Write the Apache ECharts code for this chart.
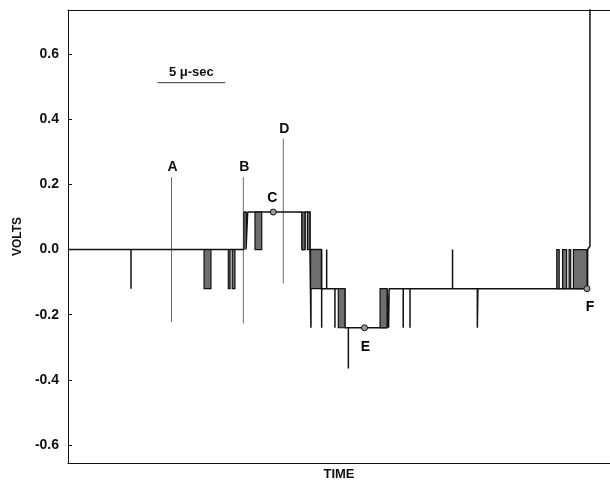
<!DOCTYPE html>
<html><head><meta charset="utf-8">
<script src="https://cdn.jsdelivr.net/npm/echarts@6/dist/echarts.min.js"></script>
<style>html,body{margin:0;padding:0;background:#fff}#c{width:610px;height:484px}</style>
</head><body><div id="c"></div>
<script>
// ---- data ----
const yTicks = [-0.6, -0.4, -0.2, 0, 0.2, 0.4, 0.6];
// main trace: [time (µs), volts]
const trace = [
  [0, 0],
  [4.65, 0], [4.65, -0.12], [4.65, 0],
  [12.99, 0], [12.99, 0.115],
  [13.14, 0.115], [13.14, 0], [13.26, 0], [13.26, 0.115],
  [17.27, 0.115], [17.27, 0], [17.49, 0], [17.49, 0.115],
  [17.86, 0.115], [17.86, 0],
  [17.93, 0], [17.93, -0.24], [17.93, 0],
  [18.72, 0], [18.72, -0.24], [18.72, -0.12],
  [19.09, -0.12], [19.09, 0], [19.09, -0.12],
  [19.7, -0.12], [19.7, -0.24], [19.7, -0.12],
  [20.44, -0.12], [20.44, -0.24],
  [20.69, -0.24], [20.69, -0.365], [20.69, -0.24],
  [23.55, -0.24], [23.55, -0.12],
  [23.66, -0.12], [23.66, -0.24], [23.7, -0.24], [23.7, -0.12],
  [24.74, -0.12], [24.74, -0.24], [24.74, -0.12],
  [25.24, -0.12], [25.24, -0.24], [25.24, -0.12],
  [28.38, -0.12], [28.38, 0], [28.38, -0.12],
  [30.21, -0.12], [30.21, -0.24], [30.25, -0.24], [30.25, -0.12],
  [38.35, -0.12], [38.35, 0], [38.52, 0.01], [38.52, 0.9]
];
// dense bursts of switching: [t start, t end, low volts, high volts]
const bursts = [
  [10.04, 10.55, -0.12, 0],
  [11.83, 11.96, -0.12, 0],
  [12.12, 12.32, -0.12, 0],
  [13.8, 14.3, 0, 0.115],
  [17.27, 17.49, 0, 0.115],
  [17.67, 17.86, 0, 0.115],
  [17.9, 18.7, -0.12, 0],
  [19.95, 20.44, -0.24, -0.12],
  [23.03, 23.55, -0.24, -0.12],
  [36.07, 36.25, -0.12, 0],
  [36.5, 36.8, -0.12, 0],
  [36.98, 37.1, -0.12, 0],
  [37.3, 38.3, -0.12, 0]
];
// vertical marker lines: name, time, top volts, bottom volts
const markerNames = ['A', 'B', 'D'];
const markerTimes = [7.64, 12.94, 15.89];
const markerTops = [0.222, 0.222, 0.34];
const markerBottoms = [-0.223, -0.227, -0.104];
// marked points
const pointNames = ['C', 'E', 'F'];
const pointTimes = [15.15, 21.88, 38.3];
const pointVolts = [0.115, -0.24, -0.12];
// scale bar
const scaleStart = 6.6, scaleLength = 5, scaleLevel = 0.512, scaleText = '5 μ-sec';

// ---- styles ----
const FONT = "'Liberation Sans',Arial,Helvetica,sans-serif";
const INK = '#111';
const pointLabel = {
  C: {position: 'top', distance: 3, offset: [-1, 0]},
  E: {position: 'bottom', distance: 9, offset: [1, 0]},
  F: {position: 'bottom', distance: 8, offset: [3, 0]}
};

const chart = echarts.init(document.getElementById('c'), null, {renderer: 'canvas'});
const option = {
  animation: false,
  backgroundColor: '#fff',
  grid: {left: 68, right: 0, top: 10, bottom: 21, containLabel: false, outerBoundsMode: 'none'},
  xAxis: [{
    type: 'value', min: 0, max: 40,
    name: 'TIME', nameLocation: 'middle', nameGap: 5,
    nameTextStyle: {fontFamily: FONT, fontWeight: 'bold', fontSize: 13, color: INK, verticalAlign: 'top'},
    axisLine: {show: true, onZero: false, lineStyle: {color: INK, width: 1}},
    axisTick: {show: false}, axisLabel: {show: false}, splitLine: {show: false}
  }, {
    type: 'value', min: 0, max: 40, position: 'top',
    axisLine: {show: true, onZero: false, lineStyle: {color: INK, width: 1}},
    axisTick: {show: false}, axisLabel: {show: false}, splitLine: {show: false}
  }],
  yAxis: {
    type: 'value', min: -0.655, max: 0.735,
    name: 'VOLTS', nameLocation: 'middle', nameGap: 32, nameRotate: 90,
    nameTextStyle: {fontFamily: FONT, fontWeight: 'bold', fontSize: 12, color: INK},
    axisLine: {show: true, onZero: false, lineStyle: {color: INK, width: 1}},
    axisTick: {show: true, inside: true, length: 4, customValues: yTicks, lineStyle: {color: INK}},
    axisLabel: {
      customValues: yTicks, margin: 9, color: INK,
      fontFamily: FONT, fontWeight: 'bold', fontSize: 14,
      formatter: v => Number(v).toFixed(1)
    },
    splitLine: {show: false}
  },
  series: [
    {
      type: 'line', data: trace, showSymbol: false, symbol: 'none',
      lineStyle: {color: INK, width: 1.5}, z: 3, clip: true
    },
    {
      type: 'custom', z: 4,
      data: bursts,
      renderItem: (params, api) => {
        const a = api.coord([api.value(0), api.value(3)]);
        const b = api.coord([api.value(1), api.value(2)]);
        return {
          type: 'rect',
          shape: {x: a[0], y: a[1], width: b[0] - a[0], height: b[1] - a[1]},
          style: {fill: '#6e6e6e', stroke: INK, lineWidth: 1.2}
        };
      }
    },
    {
      type: 'custom', z: 2,
      data: markerNames.map((n, i) => [markerTimes[i], markerTops[i], markerBottoms[i]]),
      renderItem: (params, api) => {
        const p1 = api.coord([api.value(0), api.value(1)]);
        const p2 = api.coord([api.value(0), api.value(2)]);
        return {
          type: 'group',
          children: [
            {type: 'line', shape: {x1: p1[0], y1: p1[1], x2: p2[0], y2: p2[1]},
             style: {stroke: '#6a6a6a', lineWidth: 1}},
            {type: 'text', style: {text: markerNames[params.dataIndex], x: p1[0] + 1, y: p1[1] - 3,
             align: 'center', verticalAlign: 'bottom', fill: INK,
             fontFamily: FONT, fontWeight: 'bold', fontSize: 14}}
          ]
        };
      }
    },
    {
      type: 'scatter', z: 5, symbol: 'circle', symbolSize: 6,
      itemStyle: {color: '#9a9a9a', borderColor: INK, borderWidth: 1, opacity: 1},
      data: pointNames.map((n, i) => ({
        name: n, value: [pointTimes[i], pointVolts[i]],
        label: Object.assign({show: true, formatter: '{b}', color: '#000',
          fontFamily: FONT, fontWeight: 'bold', fontSize: 14}, pointLabel[n])
      }))
    },
    {
      type: 'custom', z: 2,
      data: [[scaleStart, scaleLevel, scaleLength]],
      renderItem: (params, api) => {
        const p1 = api.coord([api.value(0), api.value(1)]);
        const p2 = api.coord([api.value(0) + api.value(2), api.value(1)]);
        return {
          type: 'group',
          children: [
            {type: 'line', shape: {x1: p1[0], y1: p1[1], x2: p2[0], y2: p2[1]},
             style: {stroke: '#333', lineWidth: 1}},
            {type: 'text', style: {text: scaleText, x: (p1[0] + p2[0]) / 2, y: p1[1] - 4,
             align: 'center', verticalAlign: 'bottom', fill: INK,
             fontFamily: FONT, fontWeight: 'bold', fontSize: 13}}
          ]
        };
      }
    }
  ]
};
chart.setOption(option);
</script>
</body></html>
